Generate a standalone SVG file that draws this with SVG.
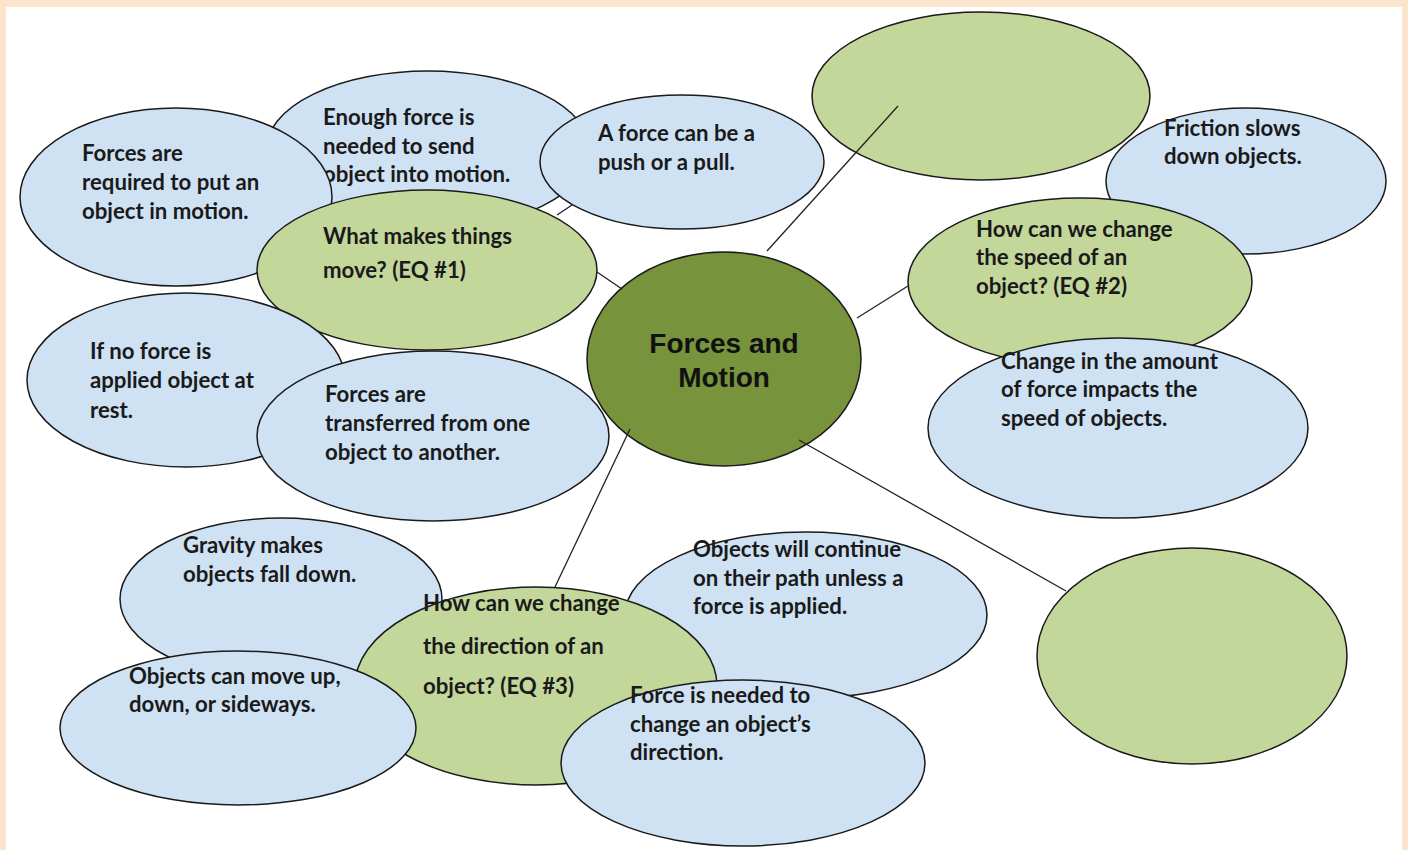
<svg xmlns="http://www.w3.org/2000/svg" width="1408" height="850" viewBox="0 0 1408 850">
<style>
.b{fill:#cfe2f3;stroke:#1a1a1a;stroke-width:1.5}
.g{fill:#c4d79b;stroke:#1a1a1a;stroke-width:1.5}
.c{fill:#77933c;stroke:#1a1a1a;stroke-width:1.5}
.t{font-family:Lato,"Liberation Sans",sans-serif;font-weight:bold;font-size:22.2px;fill:#1a1a1a}
.h{font-family:"Liberation Sans",Arial,sans-serif;font-weight:bold;font-size:28px;fill:#111;text-anchor:middle}
.ln{stroke:#222;stroke-width:1.3;fill:none}
</style>
<rect x="0" y="0" width="1408" height="850" fill="#fce5cd"/>
<rect x="6" y="7" width="1396" height="843" fill="#ffffff"/>

<g id="n2"><ellipse class="b" cx="428" cy="150" rx="162" ry="79"/>
<text class="t"><tspan x="323" y="125">Enough force is</tspan><tspan x="323" y="154">needed to send</tspan><tspan x="323" y="182">object into motion.</tspan></text></g>
<g id="n1"><ellipse class="b" cx="176" cy="197" rx="156" ry="89"/>
<text class="t"><tspan x="82" y="161">Forces are</tspan><tspan x="82" y="190">required to put an</tspan><tspan x="82" y="219">object in motion.</tspan></text></g>
<g id="n3"><ellipse class="b" cx="682" cy="162" rx="142" ry="67"/>
<text class="t"><tspan x="598" y="141">A force can be a</tspan><tspan x="598" y="170">push or a pull.</tspan></text></g>
<g id="n6"><ellipse class="g" cx="427" cy="270" rx="170" ry="80"/>
<text class="t"><tspan x="323" y="244">What makes things</tspan><tspan x="323" y="278">move? (EQ #1)</tspan></text></g>
<g id="n10"><ellipse class="b" cx="186" cy="380" rx="159" ry="87"/>
<text class="t"><tspan x="90" y="359">If no force is</tspan><tspan x="90" y="388">applied object at</tspan><tspan x="90" y="418">rest.</tspan></text></g>
<g id="n11"><ellipse class="b" cx="433" cy="436" rx="176" ry="85"/>
<text class="t"><tspan x="325" y="402">Forces are</tspan><tspan x="325" y="431">transferred from one</tspan><tspan x="325" y="460">object to another.</tspan></text></g>
<g id="n4"><ellipse class="g" cx="981" cy="96" rx="169" ry="84"/></g>
<g id="n5"><ellipse class="b" cx="1246" cy="181" rx="140" ry="73"/>
<text class="t"><tspan x="1164" y="136">Friction slows</tspan><tspan x="1164" y="164">down objects.</tspan></text></g>
<g id="n8"><ellipse class="g" cx="1080" cy="282" rx="172" ry="84"/>
<text class="t"><tspan x="976" y="237">How can we change</tspan><tspan x="976" y="265">the speed of an</tspan><tspan x="976" y="294">object? (EQ #2)</tspan></text></g>
<g id="n9"><ellipse class="b" cx="1118" cy="428" rx="190" ry="90"/>
<text class="t"><tspan x="1001" y="369">Change in the amount</tspan><tspan x="1001" y="397">of force impacts the</tspan><tspan x="1001" y="426">speed of objects.</tspan></text></g>
<g id="n17"><ellipse class="g" cx="1192" cy="656" rx="155" ry="108"/></g>
<g id="n12"><ellipse class="b" cx="281" cy="599" rx="161" ry="81"/>
<text class="t"><tspan x="183" y="553">Gravity makes</tspan><tspan x="183" y="582">objects fall down.</tspan></text></g>
<g id="n13"><ellipse class="b" cx="806" cy="615" rx="181" ry="83"/>
<text class="t"><tspan x="693" y="557">Objects will continue</tspan><tspan x="693" y="586">on their path unless a</tspan><tspan x="693" y="614">force is applied.</tspan></text></g>
<g id="n14"><ellipse class="g" cx="536" cy="686" rx="181" ry="99"/>
<text class="t"><tspan x="423" y="611">How can we change</tspan><tspan x="423" y="654">the  direction of an</tspan><tspan x="423" y="694">object? (EQ #3)</tspan></text></g>
<g id="n15"><ellipse class="b" cx="238" cy="728" rx="178" ry="77"/>
<text class="t"><tspan x="129" y="684">Objects can move up,</tspan><tspan x="129" y="712">down, or sideways.</tspan></text></g>
<g id="n16"><ellipse class="b" cx="743" cy="763" rx="182" ry="83"/>
<text class="t"><tspan x="630" y="703">Force is needed to</tspan><tspan x="630" y="732">change an object’s</tspan><tspan x="630" y="760">direction.</tspan></text></g>
<g id="n7"><ellipse class="c" cx="724" cy="359" rx="137" ry="107"/>
<text class="h"><tspan x="724" y="353">Forces and</tspan><tspan x="724" y="387">Motion</tspan></text></g>

<g id="connectors">
<line class="ln" x1="767" y1="251" x2="898" y2="106"/>
<line class="ln" x1="857" y1="318" x2="908" y2="286"/>
<line class="ln" x1="799" y1="440" x2="1066" y2="591"/>
<line class="ln" x1="630" y1="429" x2="555" y2="587"/>
<line class="ln" x1="597" y1="272" x2="622" y2="289"/>
<line class="ln" x1="557" y1="215" x2="572" y2="205"/>
</g>
</svg>
